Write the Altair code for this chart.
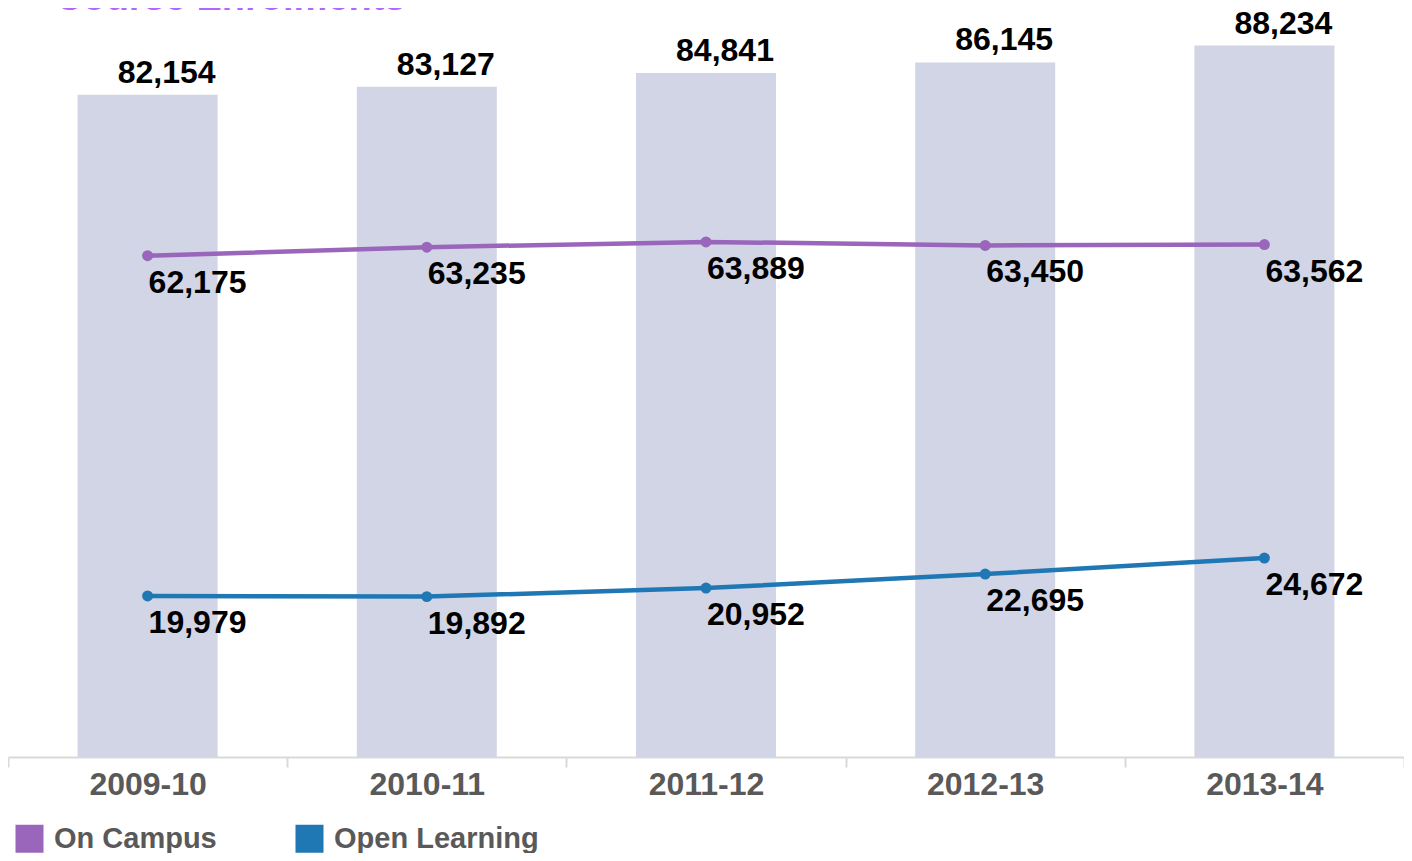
import altair as alt
import pandas as pd

YEARS = ["2009-10", "2010-11", "2011-12", "2012-13", "2013-14"]
TOTAL = [82154, 83127, 84841, 86145, 88234]
ON_CAMPUS = [62175, 63235, 63889, 63450, 63562]
OPEN_LEARNING = [19979, 19892, 20952, 22695, 24672]
SERIES = ["On Campus", "Open Learning"]
SERIES_COLORS = ["#9966bb", "#1f77b4"]
TITLE = ["Course Enrolments"]

FONT = "Liberation Sans"

bars_df = pd.DataFrame({"year": YEARS, "value": TOTAL})
lines_df = pd.DataFrame({
    "year": YEARS * 2,
    "value": ON_CAMPUS + OPEN_LEARNING,
    "series": [SERIES[0]] * len(YEARS) + [SERIES[1]] * len(YEARS),
})
title_df = pd.DataFrame({"t": TITLE})

x = alt.X("year:N", sort=YEARS, title=None,
          scale=alt.Scale(paddingInner=0, paddingOuter=0),
          axis=alt.Axis(labelAngle=0, labelFont=FONT, labelFontSize=32,
                        labelFontWeight="bold", labelColor="#595959",
                        domainColor="#d9d9d9", domainWidth=2,
                        tickColor="#d9d9d9", tickWidth=2, tickSize=10,
                        tickBand="extent", labelPadding=2))
y = alt.Y("value:Q", title=None, scale=alt.Scale(domain=[0, 92900], nice=False),
          axis=None)

legend = alt.Legend(title=None, orient="none", legendX=7, legendY=816,
                    direction="horizontal",
                    symbolType="square", symbolSize=784,
                    symbolStrokeWidth=0, symbolOpacity=1,
                    labelFont=FONT, labelFontSize=29,
                    labelFontWeight="bold", labelColor="#595959",
                    labelOffset=10, columnPadding=78, labelLimit=400)
color = alt.Color("series:N", scale=alt.Scale(domain=SERIES, range=SERIES_COLORS),
                  legend=legend)

bars = alt.Chart(bars_df).mark_bar(size=140, color="#d1d5e6").encode(x=x, y=y)
bar_text = alt.Chart(bars_df).mark_text(
    font=FONT, fontSize=32, fontWeight="bold", color="#000000",
    align="center", baseline="alphabetic", dx=19, dy=-12
).encode(x=x, y=y, text=alt.Text("value:Q", format=","))

line = alt.Chart(lines_df).mark_line(strokeWidth=4.5).encode(x=x, y=y, color=color)
pts = alt.Chart(lines_df).mark_circle(size=120, opacity=1).encode(x=x, y=y, color=color)
line_text = alt.Chart(lines_df).mark_text(
    font=FONT, fontSize=32, fontWeight="bold", color="#000000",
    align="left", baseline="alphabetic", dx=1, dy=37
).encode(x=x, y=y, text=alt.Text("value:Q", format=","))

title = alt.Chart(title_df).mark_text(
    font=FONT, fontSize=38, fontWeight="bold", color="#b266ff",
    align="left", baseline="alphabetic"
).encode(x=alt.value(47), y=alt.value(2), text="t:N")

chart = alt.layer(bars, bar_text, line, pts, line_text, title).properties(
    width=1396, height=749,
    autosize=alt.AutoSizeParams(type="none"),
    padding={"left": 0, "top": 0, "right": 0, "bottom": 96},
).configure(background="#ffffff").configure_view(stroke=None)

chart.save("out.html", embed_options={"renderer": "svg", "actions": False})
